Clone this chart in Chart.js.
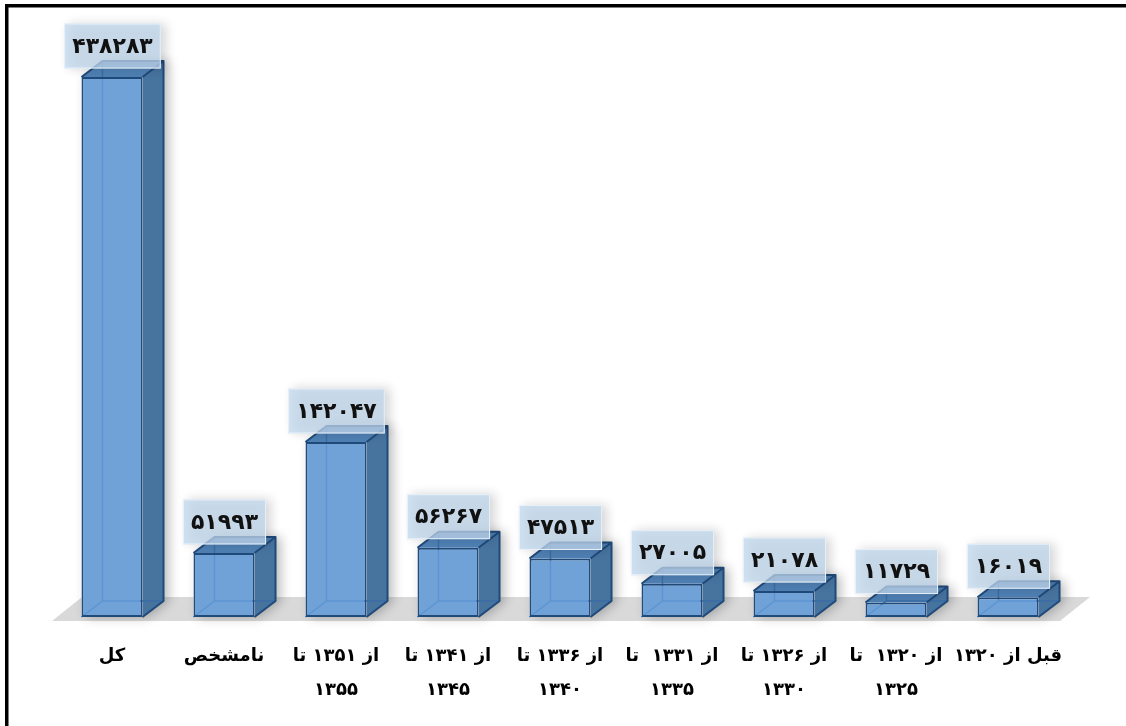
<!DOCTYPE html>
<html>
<head>
<meta charset="utf-8">
<script src="https://cdn.jsdelivr.net/npm/chart.js@4.4.1/dist/chart.umd.min.js"></script>
<style>
  html, body { margin: 0; padding: 0; background: #ffffff; }
  #wrap { width: 1126px; height: 726px; position: relative; }
</style>
</head>
<body>
<div id="wrap"><canvas id="c" width="1126" height="726"></canvas></div>
<script>
// ---- data ----
const categoryLabels = [
  ['کل'],
  ['نامشخص'],
  ['از ۱۳۵۱ تا', '۱۳۵۵'],
  ['از ۱۳۴۱ تا', '۱۳۴۵'],
  ['از ۱۳۳۶ تا', '۱۳۴۰'],
  ['از ۱۳۳۱  تا', '۱۳۳۵'],
  ['از ۱۳۲۶ تا', '۱۳۳۰'],
  ['از ۱۳۲۰  تا', '۱۳۲۵'],
  ['قبل از ۱۳۲۰']
];
const values = [438283, 51993, 142047, 56267, 47513, 27005, 21078, 11729, 16019];
const yMin = 0;
const yMax = 450000;

const faDigits = '۰۱۲۳۴۵۶۷۸۹';
function toFa(n) { return String(n).replace(/\d/g, d => faDigits[+d]); }

// ---- 3D look ----
const DX = 21, DY = 16;
const EDGE = '#1f4a7a';

function barGeom(bar) {
  const p = bar.getProps(['x', 'y', 'base', 'width'], true);
  return { x0: p.x - p.width / 2, x1: p.x + p.width / 2, top: p.y, bot: p.base, cx: p.x };
}

const box3d = {
  id: 'box3d',
  beforeDraw(chart) {
    const ctx = chart.ctx;
    ctx.save();
    ctx.fillStyle = '#000';
    ctx.fillRect(5, 4, 1121, 3.5);
    ctx.fillRect(5, 4, 3.5, 722);
    ctx.restore();
  },
  beforeDatasetsDraw(chart) {
    const ctx = chart.ctx;
    const { left, right } = chart.chartArea;
    const base = chart.scales.y.getPixelForValue(0);
    // floor
    ctx.save();
    ctx.fillStyle = '#d9d9d9';
    ctx.beginPath();
    ctx.moveTo(left - 4, base + 4);
    ctx.lineTo(right - 4, base + 4);
    ctx.lineTo(right + 26, base - 20);
    ctx.lineTo(left + 26, base - 20);
    ctx.closePath();
    ctx.fill();
    ctx.restore();

    const meta = chart.getDatasetMeta(0);
    meta.data.forEach(bar => {
      const g = barGeom(bar);
      ctx.save();
      ctx.shadowColor = 'rgba(0,0,0,0.28)';
      ctx.shadowBlur = 12;
      ctx.shadowOffsetX = 5;
      ctx.beginPath();
      ctx.moveTo(g.x0, g.bot);
      ctx.lineTo(g.x0, g.top);
      ctx.lineTo(g.x0 + DX, g.top - DY);
      ctx.lineTo(g.x1 + DX, g.top - DY);
      ctx.lineTo(g.x1 + DX, g.bot - DY);
      ctx.lineTo(g.x1, g.bot);
      ctx.closePath();
      ctx.fillStyle = '#ffffff';
      ctx.fill();
      ctx.restore();

      ctx.save();
      ctx.fillStyle = '#47739f';
      ctx.beginPath();
      ctx.moveTo(g.x1, g.top);
      ctx.lineTo(g.x1 + DX, g.top - DY);
      ctx.lineTo(g.x1 + DX, g.bot - DY);
      ctx.lineTo(g.x1, g.bot);
      ctx.closePath();
      ctx.fill();
      ctx.fillStyle = '#4f80b4';
      ctx.beginPath();
      ctx.moveTo(g.x0, g.top);
      ctx.lineTo(g.x0 + DX, g.top - DY);
      ctx.lineTo(g.x1 + DX, g.top - DY);
      ctx.lineTo(g.x1, g.top);
      ctx.closePath();
      ctx.fill();
      ctx.strokeStyle = '#3a6ea6';
      ctx.lineWidth = 1.5;
      ctx.beginPath();
      ctx.moveTo(g.x0, g.bot);
      ctx.lineTo(g.x0 + DX, g.bot - DY);
      ctx.lineTo(g.x1 + DX, g.bot - DY);
      ctx.moveTo(g.x0 + DX, g.bot - DY);
      ctx.lineTo(g.x0 + DX, g.top - DY);
      ctx.stroke();
      ctx.restore();
    });
  },
  afterDatasetsDraw(chart) {
    const ctx = chart.ctx;
    const meta = chart.getDatasetMeta(0);
    meta.data.forEach((bar, i) => {
      const g = barGeom(bar);
      ctx.save();
      ctx.strokeStyle = EDGE;
      ctx.lineWidth = 2;
      ctx.lineJoin = 'round';
      ctx.beginPath();
      ctx.moveTo(g.x0, g.top);
      ctx.lineTo(g.x0 + DX, g.top - DY);
      ctx.lineTo(g.x1 + DX, g.top - DY);
      ctx.lineTo(g.x1 + DX, g.bot - DY);
      ctx.lineTo(g.x1, g.bot);
      ctx.moveTo(g.x1, g.top);
      ctx.lineTo(g.x1 + DX, g.top - DY);
      ctx.stroke();
      ctx.restore();

      const txt = toFa(values[i]);
      ctx.save();
      ctx.font = 'bold 22px "DejaVu Sans"';
      const tw = ctx.measureText(txt).width;
      const bw = tw + 16, bh = 45;
      const bcx = g.cx + 0.5, bcy = g.top - 31;
      ctx.shadowColor = 'rgba(0,0,0,0.22)';
      ctx.shadowBlur = 10;
      ctx.shadowOffsetX = 5;
      ctx.fillStyle = 'rgba(192,215,238,0.75)';
      ctx.fillRect(bcx - bw / 2, bcy - bh / 2, bw, bh);
      ctx.shadowColor = 'transparent';
      ctx.strokeStyle = 'rgba(235,243,250,0.9)';
      ctx.lineWidth = 1;
      ctx.strokeRect(bcx - bw / 2 + 0.5, bcy - bh / 2 + 0.5, bw - 1, bh - 1);
      ctx.fillStyle = '#111';
      ctx.textAlign = 'center';
      ctx.textBaseline = 'middle';
      ctx.fillText(txt, bcx, bcy + 1);
      ctx.restore();
    });
  }
};

new Chart(document.getElementById('c'), {
  type: 'bar',
  data: {
    labels: categoryLabels,
    datasets: [{
      data: values,
      backgroundColor: 'rgba(96,152,212,0.9)',
      borderColor: EDGE,
      borderWidth: 2,
      borderSkipped: false,
      categoryPercentage: 1,
      barPercentage: 0.545
    }]
  },
  options: {
    responsive: false,
    devicePixelRatio: 1,
    animation: false,
    layout: { padding: { left: 56, right: 62, top: 62.6, bottom: 19 } },
    plugins: { legend: { display: false }, tooltip: { enabled: false } },
    scales: {
      x: {
        afterFit(scale) { scale.height = 90; },
        grid: { display: false, drawTicks: false },
        border: { display: false },
        ticks: {
          color: '#000',
          font: { family: '"DejaVu Sans"', size: 18, weight: 'bold', lineHeight: 1.9 },
          padding: 22,
          maxRotation: 0,
          autoSkip: false
        }
      },
      y: { display: false, min: yMin, max: yMax }
    }
  },
  plugins: [box3d]
});
</script>
</body>
</html>
